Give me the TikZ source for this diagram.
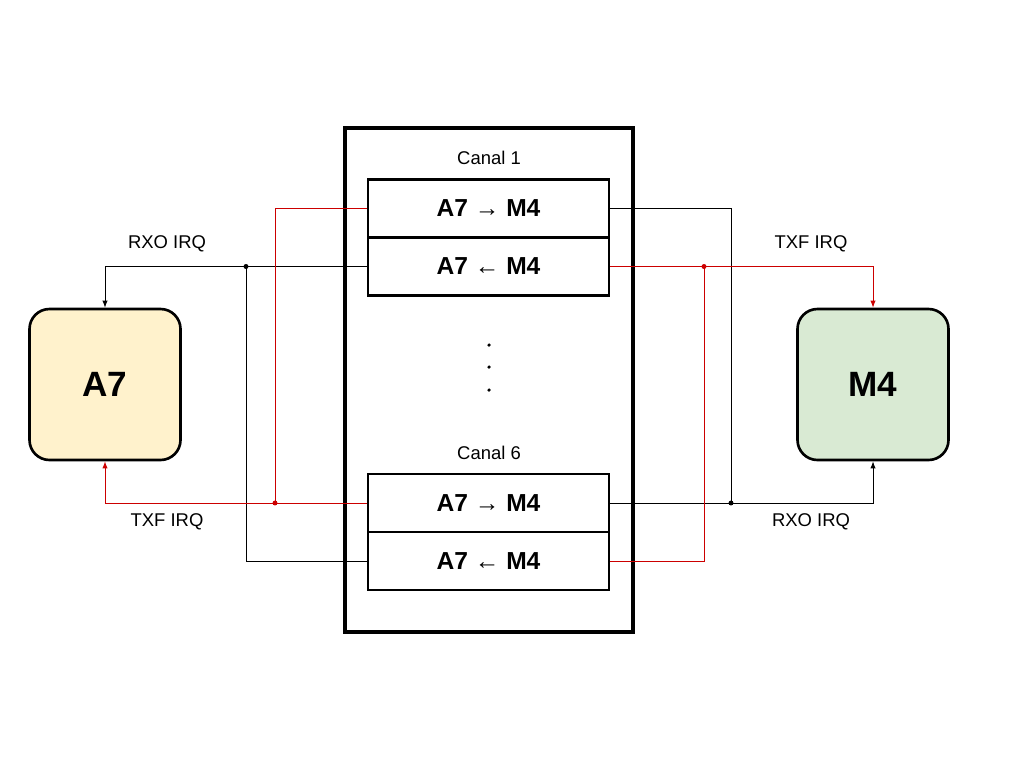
\documentclass[tikz,border=0pt]{standalone}
\usepackage{fontspec}
\setmainfont{Liberation Sans}
\usetikzlibrary{arrows.meta}
\definecolor{coreA}{HTML}{FFF2CC}
\definecolor{coreM}{HTML}{D9EAD3}
\definecolor{irqred}{HTML}{CC0000}

\begin{document}
\begin{tikzpicture}[x=0.02cm,y=-0.02cm,
    chbox/.style={draw,line width=1.5pt,minimum width=241*0.02cm,minimum height=58*0.02cm,inner sep=0pt,font=\bfseries\fontsize{14}{16}\selectfont},
    core/.style={draw,line width=1.5pt,rounded corners=0.4cm,minimum size=151*0.02cm,font=\bfseries\fontsize{20}{22}\selectfont},
    lbl/.style={font=\fontsize{10.5}{13}\selectfont},
    wire/.style={line width=0.5pt},
    tip/.style={-{Latex[length=4pt,width=3pt]}},
    junc/.style={circle,fill,inner sep=1pt}]
  \useasboundingbox (0,0) rectangle (1024,768);

  % mailbox block
  \draw[line width=2pt] (345,128) rectangle (633,632);
  \node[lbl] (canal1) at (489,158) {Canal 1};
  \node[chbox] (c1tx) at (488.5,208.5) {A7 → M4};
  \node[chbox] (c1rx) at (488.5,266.5) {A7 ← M4};
  \foreach \y in {345,367,390}
    \fill (489,\y) circle (1pt);
  \node[lbl] (canal6) at (489,453) {Canal 6};
  \node[chbox] (c6tx) at (488.5,503) {A7 → M4};
  \node[chbox] (c6rx) at (488.5,561) {A7 ← M4};

  % cores
  \node[core,fill=coreA] (a7) at (105,384.5) {A7};
  \node[core,fill=coreM] (m4) at (873,384.5) {M4};

  % junctions
  \coordinate (jl) at (246,266.5);
  \coordinate (jlr) at (275,503);
  \coordinate (jr) at (731,503);
  \coordinate (jrr) at (704,266.5);

  % A7 side
  \draw[wire,tip] (c1rx.west) -- (jl) -| (a7.north);
  \draw[wire] (jl) |- (c6rx.west);
  \draw[wire,irqred,tip] (c6tx.west) -- (jlr) -| (a7.south);
  \draw[wire,irqred] (jlr) |- (c1tx.west);
  \node[junc] at (jl) {};
  \node[junc,irqred] at (jlr) {};
  \node[lbl] (rxoA) at (167,244) {RXO IRQ};
  \node[lbl] (txfA) at (167,522) {TXF IRQ};

  % M4 side
  \draw[wire,tip] (c6tx.east) -- (jr) -| (m4.south);
  \draw[wire] (jr) |- (c1tx.east);
  \draw[wire,irqred,tip] (c1rx.east) -- (jrr) -| (m4.north);
  \draw[wire,irqred] (jrr) |- (c6rx.east);
  \node[junc] at (jr) {};
  \node[junc,irqred] at (jrr) {};
  \node[lbl] (txfM) at (811,244) {TXF IRQ};
  \node[lbl] (rxoM) at (811,522) {RXO IRQ};
\end{tikzpicture}
\end{document}
